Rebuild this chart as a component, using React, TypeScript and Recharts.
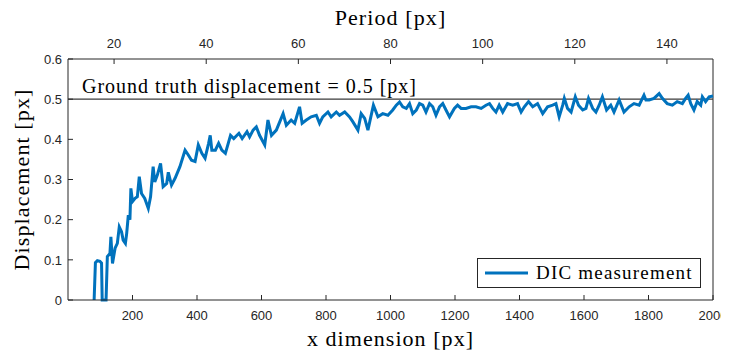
import { LineChart, Line, XAxis, YAxis, ReferenceLine } from "recharts";

// x position along the specimen [px]
const xDim = [
  81, 85, 91, 99, 104, 106, 115, 118, 122, 130, 133, 138, 146, 153, 159, 166, 171, 178, 182, 187,
  192, 195, 200, 208, 215, 221, 228, 238, 249, 256, 264, 269, 277, 287, 295, 306, 311, 321, 332, 347,
  363, 373, 383, 394, 404, 415, 425, 436, 441, 446, 457, 467, 477, 488, 504, 514, 530, 540, 555, 563,
  574, 584, 594, 610, 620, 631, 646, 667, 677, 692, 703, 718, 726, 739, 754, 770, 780, 790, 806, 816,
  832, 842, 858, 873, 883, 899, 909, 920, 930, 947, 961, 976, 992, 1007, 1018, 1028, 1038, 1049, 1059, 1069,
  1080, 1090, 1100, 1110, 1121, 1131, 1141, 1152, 1162, 1172, 1183, 1198, 1208, 1219, 1234, 1250, 1265, 1281, 1296, 1307,
  1317, 1327, 1337, 1348, 1363, 1379, 1394, 1405, 1415, 1428, 1441, 1456, 1472, 1487, 1503, 1513, 1523, 1534, 1539, 1549,
  1560, 1573, 1583, 1596, 1606, 1614, 1627, 1637, 1647, 1657, 1670, 1683, 1693, 1709, 1724, 1740, 1755, 1771, 1786, 1792,
  1802, 1817, 1833, 1843, 1858, 1874, 1889, 1905, 1915, 1923, 1931, 1941, 1951, 1962, 1967, 1977, 1988, 2000,
];

// DIC measured displacement [px]
const displacement = [
  0, 0.093, 0.098, 0.096, 0.092, 0, 0, 0, 0.108, 0.116, 0.157, 0.091, 0.129, 0.141, 0.182, 0.17, 0.149, 0.141, 0.166, 0.211,
  0.2, 0.278, 0.245, 0.253, 0.257, 0.307, 0.265, 0.253, 0.228, 0.257, 0.332, 0.294, 0.311, 0.34, 0.282, 0.29, 0.318, 0.286, 0.303, 0.332,
  0.373, 0.361, 0.348, 0.345, 0.386, 0.365, 0.353, 0.39, 0.41, 0.373, 0.373, 0.39, 0.373, 0.365, 0.41, 0.402, 0.415, 0.402, 0.419, 0.406,
  0.423, 0.431, 0.41, 0.386, 0.448, 0.41, 0.423, 0.464, 0.435, 0.448, 0.44, 0.481, 0.44, 0.448, 0.456, 0.46, 0.44, 0.456, 0.468, 0.456,
  0.468, 0.46, 0.468, 0.456, 0.444, 0.423, 0.464, 0.452, 0.423, 0.485, 0.456, 0.464, 0.46, 0.473, 0.485, 0.493, 0.481, 0.477, 0.489, 0.464,
  0.473, 0.489, 0.485, 0.468, 0.489, 0.481, 0.46, 0.481, 0.489, 0.473, 0.456, 0.477, 0.485, 0.477, 0.477, 0.481, 0.481, 0.477, 0.485, 0.489,
  0.477, 0.468, 0.485, 0.468, 0.489, 0.485, 0.489, 0.468, 0.481, 0.494, 0.481, 0.489, 0.464, 0.481, 0.485, 0.489, 0.456, 0.485, 0.502, 0.477,
  0.468, 0.506, 0.485, 0.473, 0.477, 0.502, 0.477, 0.468, 0.485, 0.506, 0.473, 0.485, 0.468, 0.498, 0.468, 0.481, 0.489, 0.485, 0.51, 0.498,
  0.498, 0.502, 0.514, 0.502, 0.489, 0.485, 0.494, 0.489, 0.502, 0.51, 0.489, 0.473, 0.494, 0.485, 0.506, 0.494, 0.506, 0.508,
];

const xTicks = [200, 400, 600, 800, 1000, 1200, 1400, 1600, 1800, 2000];
const periodTicks = [20, 40, 60, 80, 100, 120, 140];
const yTicks = [0, 0.1, 0.2, 0.3, 0.4, 0.5, 0.6];

// top axis: period runs linearly from 10 px (x = 0) to 150 px (x = 2000)
const periodRange = [10, 150];
const xMax = 2000;

const groundTruth = 0.5;
const seriesName = "DIC measurement";

const data = xDim.map((x, i) => ({ x, d: displacement[i] }));

const periodToX = (p: number) => ((p - periodRange[0]) / (periodRange[1] - periodRange[0])) * xMax;
const xToPeriod = (x: number) => Math.round(periodRange[0] + (x / xMax) * (periodRange[1] - periodRange[0]));

const AXIS = "#262626";
const BLUE = "#0072BD";
const SERIF = "'Liberation Serif', 'Times New Roman', serif";
const SANS = "'Liberation Sans', Arial, Helvetica, sans-serif";

// plain svg tick text so nothing gets wrapped or trimmed
const makeTick = (anchor: string, dy: string, fmt?: (v: number) => string) => (props: any) => {
  const v = props.payload.value;
  return (
    <text x={props.x} y={props.y} dy={dy} textAnchor={anchor} fill={AXIS} fontSize={13} fontFamily={SANS}>
      {fmt ? fmt(v) : String(v)}
    </text>
  );
};

export default function App() {
  // pull the figure over the body margin on every side so the page is exactly 729x358 (no scrollbars)
  return (
    <div style={{ position: "relative", width: 729, height: 358, margin: "-8px", overflow: "hidden", background: "#fff" }}>
      <LineChart
        width={729}
        height={358}
        data={data}
        margin={{ top: 0, right: 16, bottom: 8, left: 0 }}
        style={{ display: "block" }}
      >
        <XAxis
          xAxisId="bottom"
          dataKey="x"
          type="number"
          domain={[0, xMax]}
          ticks={xTicks}
          interval={0}
          height={50}
          stroke={AXIS}
          tickSize={-5}
          tickMargin={16}
          tick={makeTick("middle", "0.71em")}
          label={(p: any) => {
            const vb = p.viewBox;
            return (
              <text x={vb.x + vb.width / 2} y={vb.y + 46} textAnchor="middle" fontFamily={SERIF} fontSize={22} letterSpacing={1.05} fill="#000">
                x dimension [px]
              </text>
            );
          }}
        />
        <XAxis
          xAxisId="top"
          orientation="top"
          dataKey="x"
          type="number"
          domain={[0, xMax]}
          ticks={periodTicks.map(periodToX)}
          interval={0}
          height={59}
          stroke={AXIS}
          tickSize={-5}
          tickMargin={16}
          tick={makeTick("middle", "0", (v) => String(xToPeriod(v)))}
          label={(p: any) => {
            const vb = p.viewBox;
            return (
              <text x={vb.x + vb.width / 2} y={25} textAnchor="middle" fontFamily={SERIF} fontSize={22} letterSpacing={1.1} fill="#000">
                Period [px]
              </text>
            );
          }}
        />
        <YAxis
          yAxisId="left"
          type="number"
          domain={[0, 0.6]}
          ticks={yTicks}
          interval={0}
          width={68}
          stroke={AXIS}
          tickSize={-5}
          tickMargin={11}
          tick={makeTick("end", "0.36em", (v) => (v === 0 ? "0" : v.toFixed(1)))}
          label={(p: any) => {
            const vb = p.viewBox;
            const cx = 21;
            const cy = vb.y + vb.height / 2;
            return (
              <text
                x={cx}
                y={cy}
                transform={`rotate(-90 ${cx} ${cy})`}
                textAnchor="middle"
                dominantBaseline="central"
                fontFamily={SERIF}
                fontSize={22}
                letterSpacing={1.1}
                fill="#000"
              >
                Displacement [px]
              </text>
            );
          }}
        />
        <ReferenceLine xAxisId="bottom" yAxisId="left" x={xMax} stroke={AXIS} strokeWidth={1} />
        <ReferenceLine
          xAxisId="bottom"
          yAxisId="left"
          y={groundTruth}
          stroke="#3a3a3a"
          strokeWidth={1.2}
          label={(p: any) => {
            const vb = p.viewBox;
            return (
              <text x={vb.x + 14} y={vb.y - 6} fontFamily={SERIF} fontSize={20} letterSpacing={1} fill="#000">
                Ground truth displacement = 0.5 [px]
              </text>
            );
          }}
        />
        <Line
          xAxisId="bottom"
          yAxisId="left"
          type="linear"
          dataKey="d"
          name={seriesName}
          stroke={BLUE}
          strokeWidth={3}
          dot={false}
          activeDot={false}
          isAnimationActive={false}
        />
      </LineChart>
      <div
        style={{
          position: "absolute",
          left: 477,
          top: 258,
          width: 224,
          height: 30,
          border: `1px solid ${AXIS}`,
          background: "#fff",
          display: "flex",
          alignItems: "center",
          boxSizing: "border-box",
        }}
      >
        <svg width={52} height={10} style={{ marginLeft: 6, flex: "none" }}>
          <line x1={1} y1={5} x2={44} y2={5} stroke={BLUE} strokeWidth={3} />
        </svg>
        <span style={{ fontFamily: SERIF, fontSize: 19, letterSpacing: 1.2, color: "#000", whiteSpace: "nowrap" }}>
          {seriesName}
        </span>
      </div>
    </div>
  );
}
